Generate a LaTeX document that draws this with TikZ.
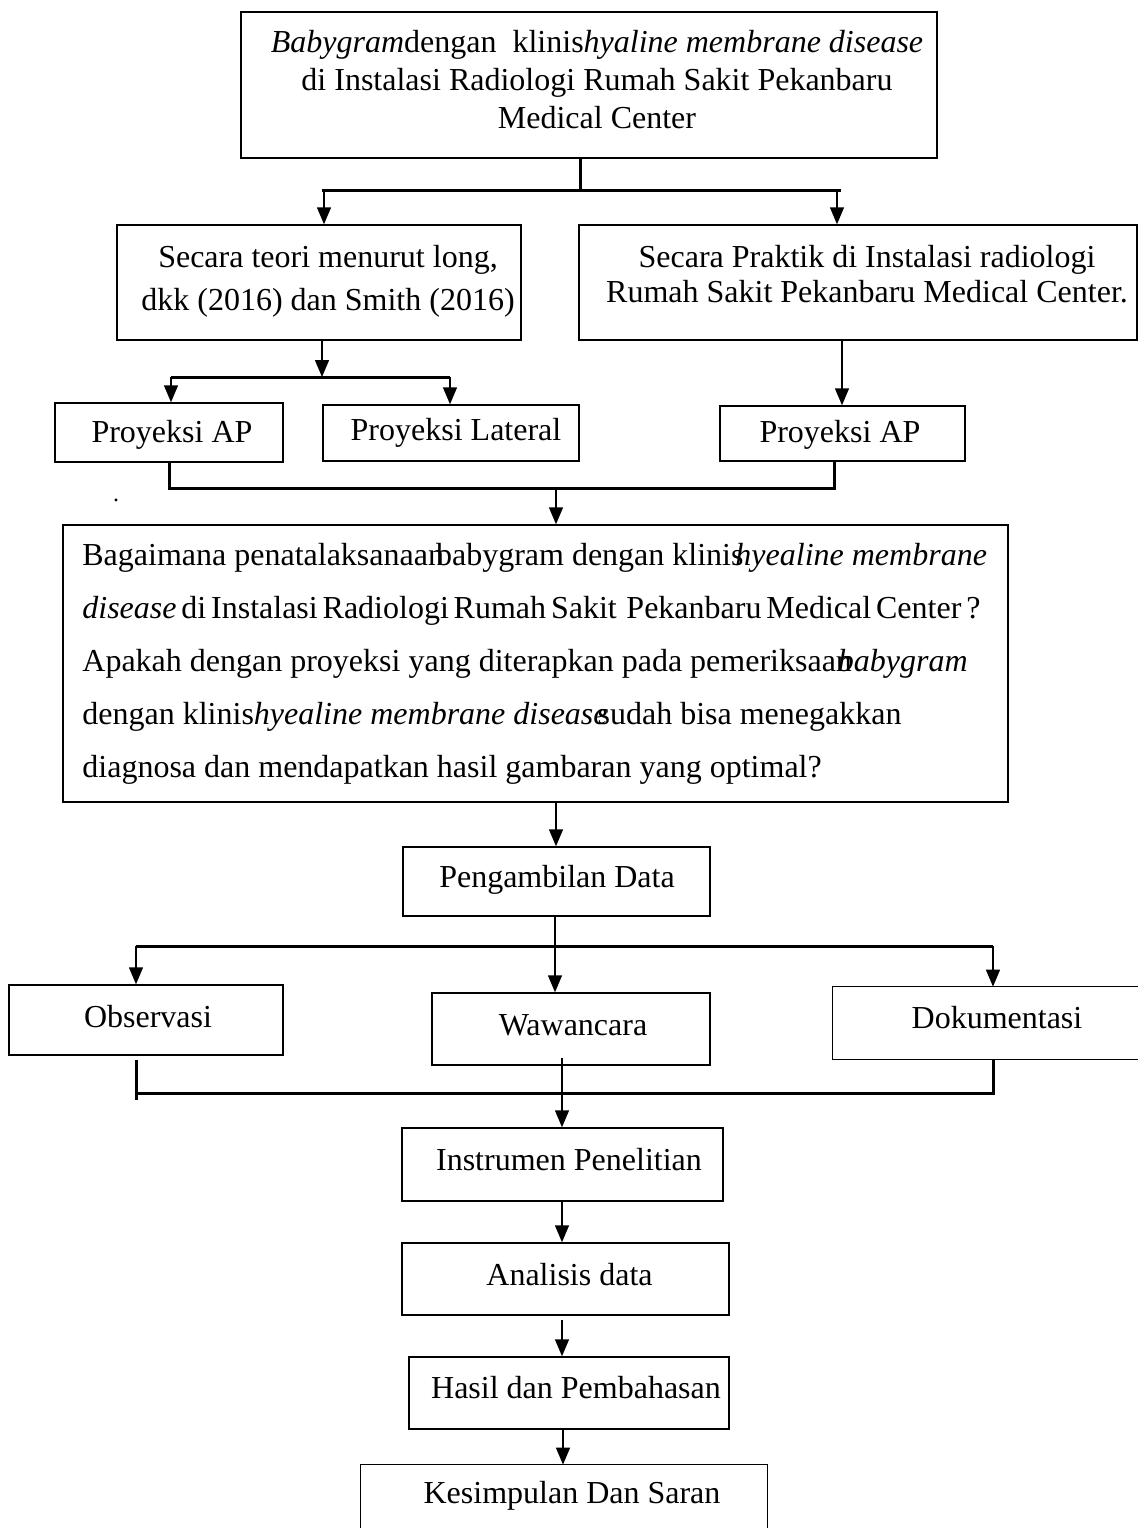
\documentclass[tikz,border=0pt]{standalone}
\usepackage{fontspec}
\setmainfont{Liberation Serif}
\usetikzlibrary{arrows.meta}
\newcommand\qboxfont{\fontsize{16}{26.5}\selectfont\spaceskip=4pt plus 16pt minus 4pt\relax}
\tikzset{
  box/.style={draw, line width=0.75pt, rectangle, inner sep=0pt},
  openbox/.style={draw=none, rectangle, inner sep=0pt},
  edge/.style={line width=0.75pt},
  txt/.style={inner sep=0pt, align=center, font=\fontsize{16}{19}\selectfont},
  bar/.style={line width=1.5pt},
  arr/.style={line width=0.75pt, -{Triangle[width=7pt,length=8.5pt]}},
}
\begin{document}
\begin{tikzpicture}[x=0.5pt, y=-0.5pt]
\useasboundingbox (0,0) rectangle (1138,1528);
% boxes
\node[box, minimum width=348pt, minimum height=73pt] (T) at (589,85) {};
\node[box, minimum width=202pt, minimum height=57.5pt] (L1) at (319,282.5) {};
\node[box, minimum width=279pt, minimum height=57.5pt] (R1) at (858,282.5) {};
\node[box, minimum width=114pt, minimum height=29.5pt] (AP1) at (169,432.5) {};
\node[box, minimum width=128pt, minimum height=28pt] (Lat) at (451,433) {};
\node[box, minimum width=122.5pt, minimum height=27.5pt] (AP2) at (842.5,433.5) {};
\node[box, minimum width=472.5pt, minimum height=138.5pt] (Q) at (535.5,663.5) {};
\node[box, minimum width=153.5pt, minimum height=34.5pt] (P) at (556.5,881.5) {};
\node[box, minimum width=137pt, minimum height=35pt] (Obs) at (146,1020) {};
\node[box, minimum width=139pt, minimum height=36pt] (Waw) at (571,1029) {};
\node[openbox, minimum width=152.5pt, minimum height=36pt] (Dok) at (985.5,1023) {};
\draw[edge] (Dok.north east) -- (Dok.north west) -- (Dok.south west) -- (Dok.south east);
\node[box, minimum width=160.5pt, minimum height=36.5pt] (I) at (562.5,1164.5) {};
\node[box, minimum width=163.5pt, minimum height=36pt] (A) at (565.5,1279) {};
\node[box, minimum width=160pt, minimum height=36pt] (H) at (569,1393) {};
\node[openbox, minimum width=203pt, minimum height=31.5pt] (K) at (564,1496.5) {};
\draw[edge] (K.south west) -- (K.north west) -- (K.north east) -- (K.south east);
% texts
\node[txt] (Tt) at (597,80) {\textit{Babygram}dengan\ \ klinis\textit{hyaline membrane disease}\\di Instalasi Radiologi Rumah Sakit Pekanbaru\\Medical Center};
\node[txt, font=\fontsize{16}{21.5}\selectfont] (L1t) at (328,281.5) {Secara teori menurut long,\\dkk (2016) dan Smith (2016)};
\node[txt, font=\fontsize{16}{17.5}\selectfont] (R1t) at (867,274.5) {Secara Praktik di Instalasi radiologi\\Rumah Sakit Pekanbaru Medical Center.};
\node[txt] (AP1t) at (172,435) {Proyeksi AP};
\node[txt] (Latt) at (456,433) {Proyeksi Lateral};
\node[txt] (AP2t) at (840,435) {Proyeksi AP};
\node[txt, anchor=west, align=left, font=\qboxfont] (Qt) at (82,663.5) {%
Bagaimana penatalaksanaan\kern-4pt babygram dengan klinis\kern-4pt\textit{hyealine membrane}\\
\makebox[449pt][s]{\textit{disease} di Instalasi Radiologi Rumah Sakit\ \ Pekanbaru Medical Center ?}\\
Apakah dengan proyeksi yang diterapkan pada pemeriksaan\kern-7pt\textit{babygram}\\
dengan klinis\textit{hyealine membrane disease}\kern-5pt sudah bisa menegakkan\\
diagnosa dan mendapatkan hasil gambaran yang optimal?};
\node[txt, font=\fontsize{12}{14}\selectfont] (dot) at (116,500) {.};
\node[txt] (Pt) at (557,880) {Pengambilan Data};
\node[txt] (Obst) at (148,1017) {Observasi};
\node[txt] (Wawt) at (573,1025) {Wawancara};
\node[txt] (Dokt) at (997,1018) {Dokumentasi};
\node[txt] (It) at (569,1160) {Instrumen Penelitian};
\node[txt] (At) at (569.5,1275) {Analisis data};
\node[txt] (Ht) at (576,1388) {Hasil dan Pembahasan};
\node[txt] (Kt) at (572,1496) {Kesimpulan Dan Saran};
% connectors: top split
\coordinate (j1) at (580,190);
\coordinate (j1l) at (322,190);
\coordinate (j1r) at (841,190);
\coordinate (a1l) at (324,190);
\coordinate (a1r) at (837,190);
\draw[bar] (T.south -| j1) -- (j1);
\draw[bar] (j1l) -- (j1r);
\draw[arr] (a1l) -- (a1l |- L1.north);
\draw[arr] (a1r) -- (a1r |- R1.north);
% L1 split
\coordinate (j2) at (322,377);
\coordinate (j2l) at (171,377);
\coordinate (j2r) at (450,377);
\draw[arr] (L1.south -| j2) -- (j2);
\draw[bar] (j2l) -- (j2r);
\draw[arr] (j2l) -- (j2l |- AP1.north);
\draw[arr] (j2r) -- (j2r |- Lat.north);
% R1 -> AP2
\coordinate (c3) at (842,0);
\draw[arr] (R1.south -| c3) -- (AP2.north -| c3);
% merge to Q
\coordinate (j3l) at (169,488);
\coordinate (j3r) at (834,488);
\coordinate (j3) at (556,488);
\draw[bar] (AP1.south -| j3l) -- (j3l) -- (j3r) -- (AP2.south -| j3r);
\draw[arr] (j3) -- (j3 |- Q.north);
% Q -> P
\coordinate (c4) at (556,0);
\draw[arr] (Q.south -| c4) -- (P.north -| c4);
% P split
\coordinate (j5) at (555,946);
\coordinate (j5l) at (136,946);
\coordinate (j5r) at (993,946);
\draw[arr] (P.south -| j5) -- (Waw.north -| j5);
\draw[bar] (j5l) -- (j5r);
\draw[arr] (j5l) -- (j5l |- Obs.north);
\draw[arr] (j5r) -- (j5r |- Dok.north);
% merge to I
\coordinate (j6l) at (136,1093);
\coordinate (j6r) at (993,1093);
\draw[bar] (Obs.south -| j6l) ++(0,4) -- ++(0,40);
\draw[bar] (j6l) -- (j6r) -- (Dok.south -| j6r);
\coordinate (c7) at (562,0);
\draw[arr] (Waw.south -| c7) ++(0,-8) -- (I.north -| c7);
% chain
\draw[arr] (I.south -| c7) -- (A.north -| c7);
\draw[arr] (A.south -| c7) ++(0,4) -- (H.north -| c7);
\coordinate (c8) at (563,0);
\draw[arr] (H.south -| c8) -- (K.north -| c8);
\end{tikzpicture}
\end{document}
